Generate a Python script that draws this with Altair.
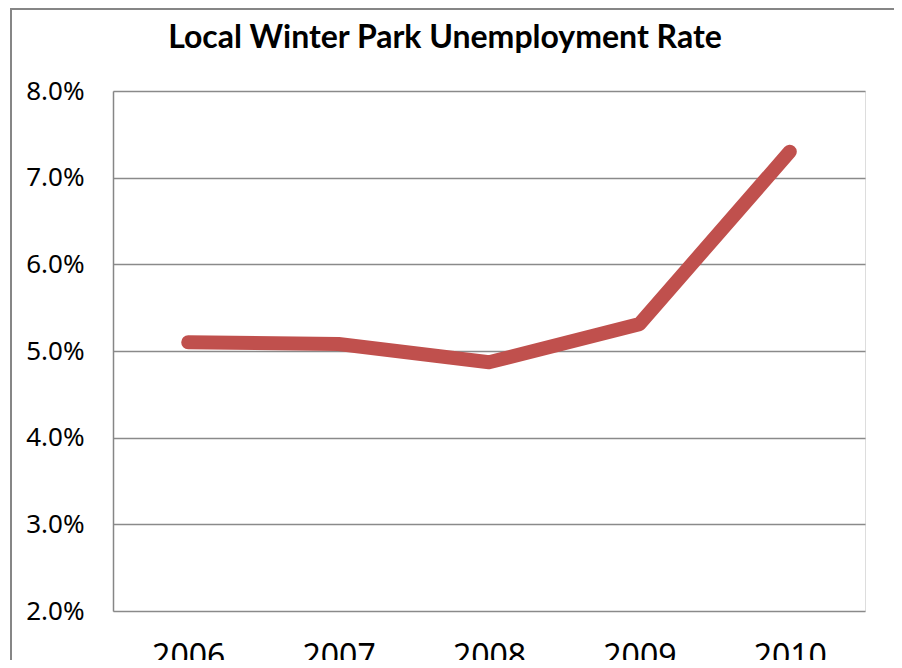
import altair as alt
import pandas as pd

title_text = "Local Winter Park Unemployment Rate"
years = ["2006", "2007", "2008", "2009", "2010"]
rates = [0.0510, 0.0508, 0.0487, 0.0531, 0.0730]
y_ticks = [0.02, 0.03, 0.04, 0.05, 0.06, 0.07, 0.08]

df = pd.DataFrame({"year": years, "rate": rates})

base = alt.Chart(df)

line = base.mark_line(
    color="#C0504D", strokeWidth=14, strokeCap="round", strokeJoin="round"
).encode(
    x=alt.X(
        "year:O",
        sort=years,
        scale=alt.Scale(type="point", padding=0.5),
        axis=alt.Axis(
            title=None, labelAngle=0, ticks=False, domain=False, grid=False,
            labelFont="Noto Sans", labelFontSize=32, labelColor="#000000",
            labelPadding=30,
        ),
    ),
    y=alt.Y(
        "rate:Q",
        scale=alt.Scale(domain=[0.02, 0.08], nice=False, zero=False),
        axis=alt.Axis(
            title=None, values=y_ticks, format=".1%", ticks=False,
            domain=True, domainColor="#868686", domainWidth=1.5,
            grid=True, gridColor="#8a8a8a", gridWidth=1.6,
            labelFont="Noto Sans", labelFontSize=26, labelColor="#000000",
            labelPadding=29,
        ),
    ),
)

tdf = pd.DataFrame({"t": [title_text]})

border_left = alt.Chart(tdf).mark_rule(color="#868686", strokeWidth=2).encode(
    x=alt.value(-102), y=alt.value(-83), y2=alt.value(700)
)
border_top = alt.Chart(tdf).mark_rule(color="#868686", strokeWidth=2).encode(
    y=alt.value(-82), x=alt.value(-103), x2=alt.value(900)
)

title = alt.Chart(tdf).mark_text(
    font="Lato", fontSize=32, fontWeight="bold", color="#000000",
    align="center", baseline="alphabetic",
).encode(
    text="t:N", x=alt.value(332), y=alt.value(-43)
)

chart = alt.layer(border_left, border_top, title, line).properties(
    width=752,
    height=520,
    autosize=alt.AutoSizeParams(type="none"),
    padding={"left": 105, "top": 83, "right": 29, "bottom": 49},
).configure_view(stroke=None).configure(background="white")

chart.save("out.html", embed_options={"renderer": "svg", "actions": False})
